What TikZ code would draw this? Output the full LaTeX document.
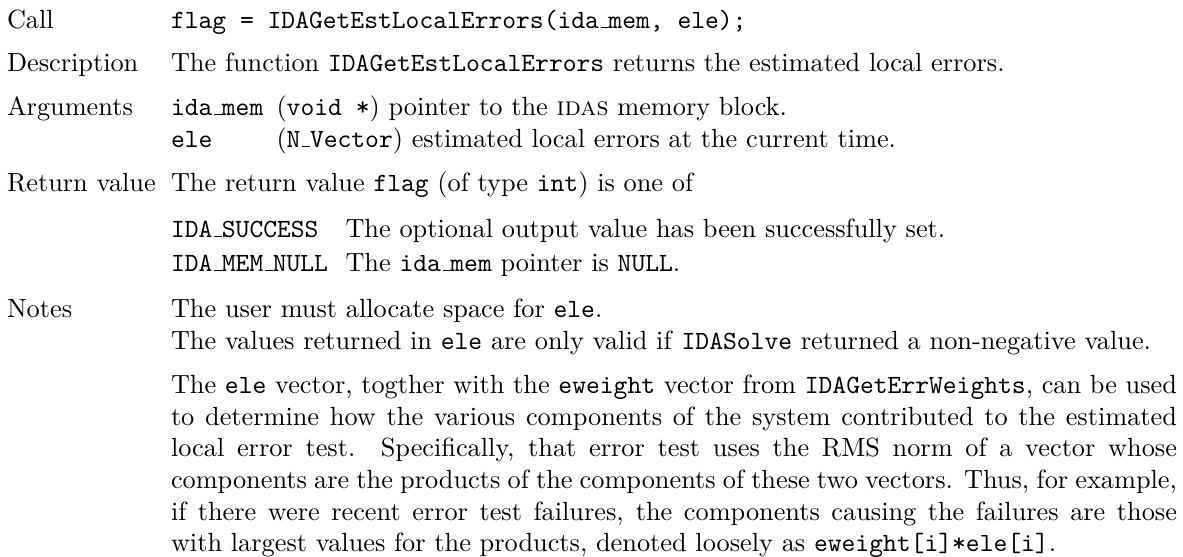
\documentclass[tikz,border=0pt]{standalone}
\newcommand\usc{\leavevmode\kern.06em\vbox{\hrule width.3em}}
\begin{document}
\begin{tikzpicture}[x=0.38023pt,y=-0.38023pt,
  lbl/.style={anchor=base west,inner sep=0pt,outer sep=0pt,font=\fontsize{10}{12}\selectfont},
  txt/.style={anchor=base west,inner sep=0pt,outer sep=0pt,font=\fontsize{10}{12}\selectfont}]
\useasboundingbox (0,0) rectangle (1183,557);
% labels
\node[lbl] (lcall) at (7,28.3) {Call};
\node[lbl] (ldesc) at (7,71.7) {Description};
\node[lbl] (largs) at (7,115) {Arguments};
\node[lbl] (lret) at (7,191) {Return value};
\node[lbl] (lnotes) at (7,317.7) {Notes};
% call
\node[txt] (call) at (171,28.3) {\texttt{flag = IDAGetEstLocalErrors(ida\usc mem, ele);}};
% description
\node[txt] (desc) at (171,71.7) {The function \texttt{IDAGetEstLocalErrors} returns the estimated local errors.};
% arguments
\node[txt] (a1) at (171,115) {\texttt{ida\usc mem}};
\node[txt] (a1d) at (276.5,115) {(\texttt{void *}) pointer to the \textsc{idas} memory block.};
\node[txt] (a2) at (171,147) {\texttt{ele}};
\node[txt] (a2d) at (276.5,147) {(\texttt{N\usc Vector}) estimated local errors at the current time.};
% return
\node[txt] (ret) at (171,191) {The return value \texttt{flag} (of type \texttt{int}) is one of};
\node[txt] (r1) at (171,237) {\texttt{IDA\usc SUCCESS}};
\node[txt] (r1d) at (345.5,237) {The optional output value has been successfully set.};
\node[txt] (r2) at (171,271) {\texttt{IDA\usc MEM\usc NULL}};
\node[txt] (r2d) at (345.5,271) {The \texttt{ida\usc mem} pointer is \texttt{NULL}.};
% notes
\node[txt] (n1) at (171,317.7) {The user must allocate space for \texttt{ele}.};
\node[txt] (n2) at (171,349.5) {The values returned in \texttt{ele} are only valid if \texttt{IDASolve} returned a non-negative value.};
\node[txt] (p1) at (171,393.3) {\makebox[382.5pt][s]{The \texttt{ele} vector, togther with the \texttt{eweight} vector from \texttt{IDAGetErrWeights}, can be used}};
\node[txt] (p2) at (171,425) {\makebox[382.5pt][s]{to determine how the various components of the system contributed to the estimated}};
\node[txt] (p3) at (171,456.7) {\makebox[382.5pt][s]{local error test.\ \ Specifically, that error test uses the RMS norm of a vector whose}};
\node[txt] (p4) at (171,488.3) {\makebox[382.5pt][s]{components are the products of the components of these two vectors. Thus, for example,}};
\node[txt] (p5) at (171,520) {\makebox[382.5pt][s]{if there were recent error test failures, the components causing the failures are those}};
\node[txt] (p6) at (171,551.7) {with largest values for the products, denoted loosely as \texttt{eweight[i]*ele[i]}.};
\end{tikzpicture}
\end{document}
